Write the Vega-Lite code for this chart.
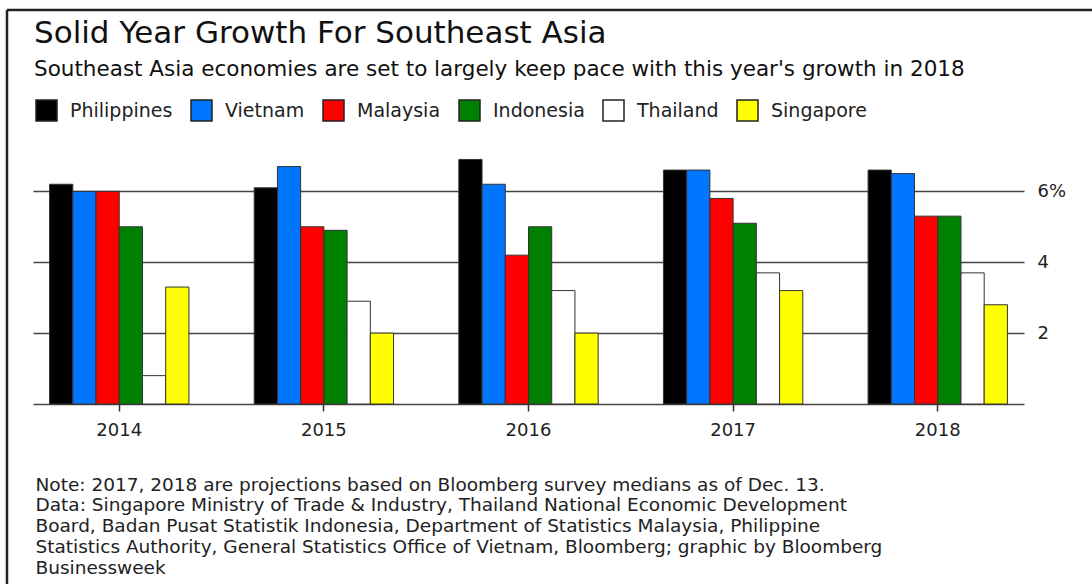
{
  "$schema": "https://vega.github.io/schema/vega-lite/v6.json",
  "width": 1095,
  "height": 584,
  "autosize": "none",
  "padding": {"left": 7, "top": 10, "right": -10, "bottom": -10},
  "background": "white",
  "view": {"stroke": "#222222", "strokeWidth": 2.5, "strokeDash": [1095, 1679, 584, 0]},
  "title": {
    "text": "Solid Year Growth For Southeast Asia",
    "subtitle": "Southeast Asia economies are set to largely keep pace with this year's growth in 2018",
    "anchor": "start",
    "frame": "group",
    "dx": 27,
    "offset": -71,
    "font": "DejaVu Sans",
    "subtitleFont": "DejaVu Sans",
    "fontSize": 31,
    "subtitleFontSize": 21.5,
    "fontWeight": "normal",
    "color": "#111111",
    "subtitleColor": "#111111",
    "subtitlePadding": 9
  },
  "data": {
    "values": [
      {"year": "2014", "country": "Philippines", "growth": 6.2},
      {"year": "2014", "country": "Vietnam", "growth": 6.0},
      {"year": "2014", "country": "Malaysia", "growth": 6.0},
      {"year": "2014", "country": "Indonesia", "growth": 5.0},
      {"year": "2014", "country": "Thailand", "growth": 0.8},
      {"year": "2014", "country": "Singapore", "growth": 3.3},
      {"year": "2015", "country": "Philippines", "growth": 6.1},
      {"year": "2015", "country": "Vietnam", "growth": 6.7},
      {"year": "2015", "country": "Malaysia", "growth": 5.0},
      {"year": "2015", "country": "Indonesia", "growth": 4.9},
      {"year": "2015", "country": "Thailand", "growth": 2.9},
      {"year": "2015", "country": "Singapore", "growth": 2.0},
      {"year": "2016", "country": "Philippines", "growth": 6.9},
      {"year": "2016", "country": "Vietnam", "growth": 6.2},
      {"year": "2016", "country": "Malaysia", "growth": 4.2},
      {"year": "2016", "country": "Indonesia", "growth": 5.0},
      {"year": "2016", "country": "Thailand", "growth": 3.2},
      {"year": "2016", "country": "Singapore", "growth": 2.0},
      {"year": "2017", "country": "Philippines", "growth": 6.6},
      {"year": "2017", "country": "Vietnam", "growth": 6.6},
      {"year": "2017", "country": "Malaysia", "growth": 5.8},
      {"year": "2017", "country": "Indonesia", "growth": 5.1},
      {"year": "2017", "country": "Thailand", "growth": 3.7},
      {"year": "2017", "country": "Singapore", "growth": 3.2},
      {"year": "2018", "country": "Philippines", "growth": 6.6},
      {"year": "2018", "country": "Vietnam", "growth": 6.5},
      {"year": "2018", "country": "Malaysia", "growth": 5.3},
      {"year": "2018", "country": "Indonesia", "growth": 5.3},
      {"year": "2018", "country": "Thailand", "growth": 3.7},
      {"year": "2018", "country": "Singapore", "growth": 2.8}
    ]
  },
  "mark": {"type": "bar", "stroke": "#333333", "strokeWidth": 1},
  "encoding": {
    "x": {
      "field": "year",
      "type": "nominal",
      "scale": {"range": [26, 1017], "paddingInner": 0.319, "paddingOuter": 0.081},
      "axis": {
        "orient": "bottom",
        "offset": -190,
        "labelAngle": 0,
        "labelFont": "DejaVu Sans",
        "labelFontSize": 18,
        "labelColor": "#222222",
        "labelPadding": 10,
        "tickSize": 7,
        "tickColor": "#333333",
        "tickWidth": 1.5,
        "domainColor": "#444444",
        "domainWidth": 1.5,
        "title": [
          "Note: 2017, 2018 are projections based on Bloomberg survey medians as of Dec. 13.",
          "Data: Singapore Ministry of Trade & Industry, Thailand National Economic Development",
          "Board, Badan Pusat Statistik Indonesia, Department of Statistics Malaysia, Philippine",
          "Statistics Authority, General Statistics Office of Vietnam, Bloomberg; graphic by Bloomberg",
          "Businessweek"
        ],
        "titleFont": "DejaVu Sans",
        "titleFontSize": 18.5,
        "titleFontWeight": "normal",
        "titleColor": "#222222",
        "titleAlign": "left",
        "titleAnchor": "start",
        "titleBaseline": "alphabetic",
        "titleX": 28,
        "titleY": 86,
        "titleLineHeight": 20.8
      }
    },
    "xOffset": {
      "field": "country",
      "type": "nominal",
      "sort": ["Philippines", "Vietnam", "Malaysia", "Indonesia", "Thailand", "Singapore"],
      "scale": {"paddingInner": 0, "paddingOuter": 0}
    },
    "y": {
      "field": "growth",
      "type": "quantitative",
      "scale": {"domain": [0, 7], "range": [394, 145.9], "nice": false, "zero": true},
      "axis": {
        "orient": "right",
        "offset": -78,
        "values": [2, 4, 6],
        "domain": false,
        "grid": false,
        "tickSize": -991,
        "tickColor": "#444444",
        "tickWidth": 1.5,
        "labelExpr": "datum.value == 6 ? '6%' : datum.label",
        "labelFont": "DejaVu Sans",
        "labelFontSize": 18,
        "labelColor": "#222222",
        "labelPadding": 1004,
        "title": null
      }
    },
    "color": {
      "field": "country",
      "type": "nominal",
      "scale": {
        "domain": ["Philippines", "Vietnam", "Malaysia", "Indonesia", "Thailand", "Singapore"],
        "range": ["#000000", "#0076FF", "#FF0000", "#008000", "#FFFFFF", "#FFFF00"]
      },
      "legend": {
        "orient": "none",
        "legendX": 28,
        "legendY": 89,
        "direction": "horizontal",
        "columns": 6,
        "title": null,
        "padding": 0,
        "symbolType": "square",
        "symbolSize": 441,
        "symbolStrokeColor": "#222222",
        "symbolStrokeWidth": 1.5,
        "symbolOpacity": 1,
        "labelFont": "DejaVu Sans",
        "labelFontSize": 19,
        "labelColor": "#222222",
        "labelOffset": 12,
        "columnPadding": 15
      }
    }
  },
  "config": {
    "font": "DejaVu Sans"
  }
}
